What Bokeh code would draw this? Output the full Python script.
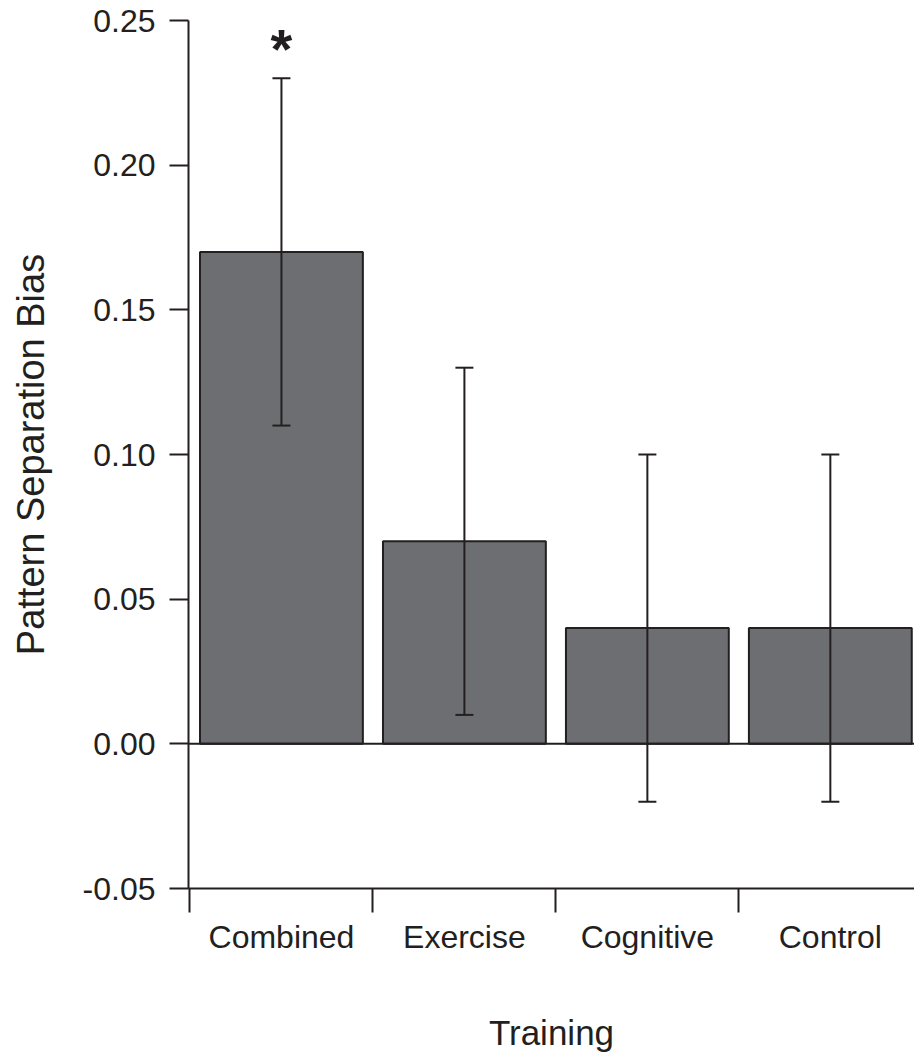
import numpy as np
from bokeh.plotting import figure
from bokeh.models import (ColumnDataSource, Whisker, TeeHead, Span, FixedTicker,
                          NumeralTickFormatter, CustomJSTickFormatter, Range1d)
from bokeh.core.properties import value
from bokeh.embed import file_html
from bokeh.resources import INLINE

# ---- data ----
categories = ["Combined", "Exercise", "Cognitive", "Control"]
means = [0.17, 0.07, 0.04, 0.04]
err_low = [0.11, 0.01, -0.02, -0.02]
err_high = [0.23, 0.13, 0.10, 0.10]
y_ticks = [-0.05, 0.0, 0.05, 0.10, 0.15, 0.20, 0.25]
star_label = "*"
star_index = 0
star_y = 0.24
y_title = "Pattern Separation Bias"
x_title = "Training"

FONT = "Liberation Sans"
INK = "#231f20"
BAR = "#6d6e71"

x_pos = np.arange(len(categories)) + 0.5
src = ColumnDataSource(dict(x=x_pos, top=means, lo=err_low, hi=err_high))

p = figure(width=914, height=1057, output_backend="svg", toolbar_location=None,
           x_range=Range1d(-0.008, 3.96), y_range=Range1d(-0.05, 0.25),
           min_border_left=188, min_border_right=0, min_border_top=20,
           min_border_bottom=169)
p.outline_line_color = None
p.grid.visible = False
p.background_fill_color = "white"
p.border_fill_color = "white"

p.vbar(x="x", top="top", bottom=0, width=0.89, source=src,
       fill_color=BAR, line_color=INK, line_width=2)

p.add_layout(Span(location=0, dimension="width", line_color=INK, line_width=2))

wh = Whisker(source=src, base="x", lower="lo", upper="hi", dimension="height",
             line_color=INK, line_width=2, level="overlay",
             upper_head=TeeHead(size=18, line_color=INK, line_width=2),
             lower_head=TeeHead(size=18, line_color=INK, line_width=2))
p.add_layout(wh)

p.text(x=[x_pos[star_index]], y=[star_y], text=[star_label],
       text_font=value(FONT), text_font_size="56px", text_font_style="bold",
       text_color=INK, text_align="center", text_baseline="middle", y_offset=-1)

# y axis
ya = p.yaxis[0]
ya.ticker = FixedTicker(ticks=y_ticks, minor_ticks=[])
ya.formatter = NumeralTickFormatter(format="0.00")
ya.axis_line_width = 2
ya.axis_line_color = INK
ya.major_tick_line_width = 2
ya.major_tick_line_color = INK
ya.major_tick_in = 0
ya.major_tick_out = 19
ya.major_label_standoff = 14
ya.major_label_text_font = FONT
ya.major_label_text_font_size = "32px"
ya.major_label_text_color = INK
ya.axis_label = y_title
ya.axis_label_text_font = FONT
ya.axis_label_text_font_size = "38px"
ya.axis_label_text_font_style = "normal"
ya.axis_label_text_color = INK
ya.axis_label_standoff = 28

# x axis
xa = p.xaxis[0]
xa.ticker = FixedTicker(ticks=list(x_pos), minor_ticks=list(np.arange(len(categories))))
xa.formatter = CustomJSTickFormatter(args=dict(labels=categories),
                                     code="return labels[Math.floor(tick)]")
xa.axis_line_width = 2
xa.axis_line_color = INK
xa.major_tick_line_color = None
xa.major_tick_in = 0
xa.major_tick_out = 0
xa.minor_tick_line_width = 2
xa.minor_tick_line_color = INK
xa.minor_tick_in = 0
xa.minor_tick_out = 24
xa.major_label_standoff = 6
xa.major_label_text_font = FONT
xa.major_label_text_font_size = "32px"
xa.major_label_text_color = INK
xa.axis_label = x_title
xa.axis_label_text_font = FONT
xa.axis_label_text_font_size = "35px"
xa.axis_label_text_font_style = "normal"
xa.axis_label_text_color = INK
xa.axis_label_standoff = 55

open("out.html", "w").write(file_html(p, INLINE))
